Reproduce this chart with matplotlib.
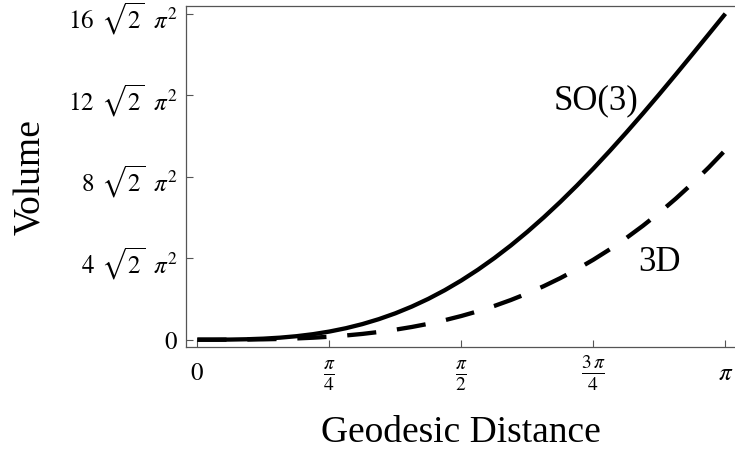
import numpy as np
import matplotlib
matplotlib.use("Agg")
import matplotlib.pyplot as plt

plt.rcParams['font.family'] = ['Liberation Serif', 'DejaVu Serif']
plt.rcParams['mathtext.fontset'] = 'stix'
plt.rcParams['lines.scale_dashes'] = False

# geodesic distance samples (radians) and volumes
distance = [0.0, 0.09817, 0.19635, 0.29452, 0.39270, 0.49087, 0.58905, 0.68722,
            0.78540, 0.88357, 0.98175, 1.07992, 1.17810, 1.27627, 1.37445,
            1.47262, 1.57080, 1.66897, 1.76715, 1.86532, 1.96350, 2.06167,
            2.15985, 2.25802, 2.35619, 2.45437, 2.55254, 2.65072, 2.74889,
            2.84707, 2.94524, 3.04342, 3.14159]
so3_volume = [0.0, 0.01, 0.09, 0.30, 0.71, 1.38, 2.38, 3.76, 5.57, 7.86,
              10.68, 14.08, 18.07, 22.70, 27.98, 33.94, 40.58, 47.90, 55.90,
              64.57, 73.90, 83.86, 94.43, 105.56, 117.23, 129.38, 141.96,
              154.92, 168.20, 181.75, 195.50, 209.38, 223.32]
ball3d_volume = [0.0, 0.004, 0.03, 0.11, 0.25, 0.50, 0.86, 1.36, 2.03, 2.89,
                 3.96, 5.28, 6.85, 8.71, 10.88, 13.38, 16.24, 19.47, 23.12,
                 27.19, 31.71, 36.71, 42.20, 48.23, 54.79, 61.93, 69.67,
                 78.02, 87.01, 96.67, 107.02, 118.08, 129.88]

x_ticks = [0.0, np.pi / 4, np.pi / 2, 3 * np.pi / 4, np.pi]
x_tick_labels = [r'$0$', r'$\frac{\pi}{4}$', r'$\frac{\pi}{2}$',
                 r'$\frac{3\,\pi}{4}$', r'$\pi$']
y_ticks = [0.0, 4 * np.sqrt(2) * np.pi ** 2, 8 * np.sqrt(2) * np.pi ** 2,
           12 * np.sqrt(2) * np.pi ** 2, 16 * np.sqrt(2) * np.pi ** 2]
y_tick_labels = [r'$0$', r'$4\;\,\sqrt{2}\;\;\pi^2$', r'$8\;\,\sqrt{2}\;\;\pi^2$',
                 r'$12\;\,\sqrt{2}\;\;\pi^2$', r'$16\;\,\sqrt{2}\;\;\pi^2$']

fig = plt.figure(figsize=(7.35, 4.56), dpi=100)
ax = fig.add_axes([0.2531, 0.2375, 0.7469, 0.7465])

ax.plot(distance, so3_volume, color='black', lw=3.1, solid_capstyle='butt')
ax.plot(distance, ball3d_volume, color='black', lw=3.1,
        dashes=(21, 15), dash_capstyle='butt')

ax.set_xlim(-0.0673, 3.199)
ax.set_ylim(-4.8, 228.4)

ax.set_xticks(x_ticks)
ax.set_xticklabels(x_tick_labels)
ax.set_yticks(y_ticks)
ax.set_yticklabels(y_tick_labels)

spine_color = '#555555'
for s in ['left', 'bottom', 'top']:
    ax.spines[s].set_color(spine_color)
    ax.spines[s].set_linewidth(0.9)
ax.spines['right'].set_visible(False)

ax.tick_params(axis='both', direction='in', length=5, width=0.8,
               color=spine_color)
ax.tick_params(axis='x', pad=23, labelsize=18)
ax.tick_params(axis='y', pad=6, labelsize=18)
ax.tick_params(axis='x', which='both', top=False)
ax.tick_params(axis='y', which='both', right=False)

for i, lab in enumerate(ax.get_xticklabels()):
    lab.set_verticalalignment('baseline')
    if 0 < i < 4:
        lab.set_fontsize(20)

ax.set_xlabel('Geodesic Distance', fontsize=27)
ax.set_ylabel('Volume', fontsize=27)
ax.xaxis.set_label_coords(0.5, -0.198)
ax.yaxis.set_label_coords(-0.252, 0.5)

ax.text(2.372, 158.7, 'SO(3)', fontsize=25, ha='center', va='baseline')
ax.text(2.747, 47.75, '3D', fontsize=25, ha='center', va='baseline')

fig.savefig('out.png', dpi=100)
